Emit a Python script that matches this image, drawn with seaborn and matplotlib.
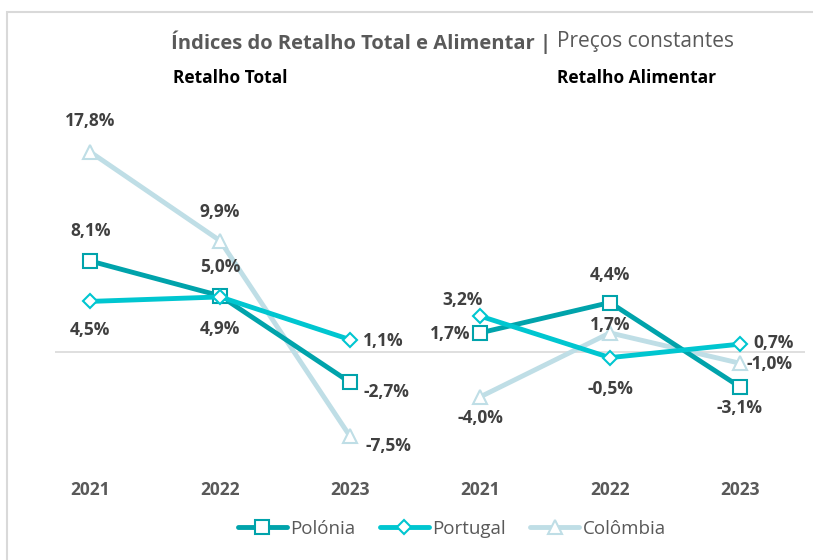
import numpy as np
import pandas as pd
import matplotlib
matplotlib.use("Agg")
import matplotlib.pyplot as plt
import matplotlib.patches as mpatches
from matplotlib.lines import Line2D
import seaborn as sns

# Data
years = ['2021', '2022', '2023']
groups = ['Retalho Total', 'Retalho Alimentar']
countries = ['Polónia', 'Portugal', 'Colômbia']

polonia_total = [8.1, 5.0, -2.7]
portugal_total = [4.5, 4.9, 1.1]
colombia_total = [17.8, 9.9, -7.5]

polonia_alim = [1.7, 4.4, -3.1]
portugal_alim = [3.2, -0.5, 0.7]
colombia_alim = [-4.0, 1.7, -1.0]

# Build long table
rows = []
vals = {
    ('Retalho Total', 'Polónia'): polonia_total,
    ('Retalho Total', 'Portugal'): portugal_total,
    ('Retalho Total', 'Colômbia'): colombia_total,
    ('Retalho Alimentar', 'Polónia'): polonia_alim,
    ('Retalho Alimentar', 'Portugal'): portugal_alim,
    ('Retalho Alimentar', 'Colômbia'): colombia_alim,
}
for gi, g in enumerate(groups):
    for c in countries:
        for yi, y in enumerate(years):
            rows.append({'group': g, 'country': c, 'year': y,
                         'pos': gi * 3 + yi, 'value': vals[(g, c)][yi]})
df = pd.DataFrame(rows)

# Styles
colors = {'Polónia': '#00A3AB', 'Portugal': '#00C6D0', 'Colômbia': '#BFDEE6'}
markers = {'Polónia': 's', 'Portugal': 'D', 'Colômbia': '^'}
msizes = {'Polónia': 10, 'Portugal': 7.5, 'Colômbia': 10}
zorders = {'Polónia': 3, 'Portugal': 4, 'Colômbia': 2}

# label offsets in pixels (dx, dy) per group/country/year index
offsets = {
    ('Retalho Total', 'Polónia'): [(0, 30), (0, 29), (36, -10)],
    ('Retalho Total', 'Portugal'): [(0, -29), (0, -32), (33, -1)],
    ('Retalho Total', 'Colômbia'): [(0, 31), (0, 29), (38, -10)],
    ('Retalho Alimentar', 'Polónia'): [(-30, -1), (0, 28), (0, -21)],
    ('Retalho Alimentar', 'Portugal'): [(-17, 16), (0, -31), (34, 1)],
    ('Retalho Alimentar', 'Colômbia'): [(0, -21), (0, 8), (30, -1)],
}

sns.set_theme(style='white')
plt.rcParams['font.family'] = ['Open Sans', 'DejaVu Sans']

fig = plt.figure(figsize=(8.13, 5.6), dpi=100)
ax = fig.add_axes([0.0677, 0.1707, 0.9223, 0.5821])

ax.axhline(0, color='#D9D9D9', lw=1.2, zorder=1)

for g in groups:
    for c in countries:
        sub = df[(df['group'] == g) & (df['country'] == c)]
        sns.lineplot(data=sub, x='pos', y='value', ax=ax, color=colors[c],
                     lw=3.5, marker=markers[c], markersize=msizes[c],
                     markerfacecolor='white', markeredgecolor=colors[c],
                     markeredgewidth=1.5, zorder=zorders[c])
        for i, (_, r) in enumerate(sub.iterrows()):
            dx, dy = offsets[(g, c)][i]
            ax.annotate(f"{r['value']:.1f}%".replace('.', ','),
                        (r['pos'], r['value']), xytext=(dx, dy),
                        textcoords='offset pixels', ha='center', va='center',
                        fontsize=12.5, fontweight='bold', color='#404040',
                        zorder=6)

ax.set_xlim(-0.27, 5.5)
ax.set_ylim(-10, 19)
ax.set_xticks(range(6))
ax.set_xticklabels(years * 2, fontsize=12.5, fontweight='bold', color='#595959')
ax.tick_params(axis='x', length=0, pad=12)
ax.set_yticks([])
ax.set_xlabel('')
ax.set_ylabel('')
for s in ax.spines.values():
    s.set_visible(False)
ax.grid(False)

# Titles
fig.text(0.6777, 0.925, 'Índices do Retalho Total e Alimentar |', ha='right',
         va='center', fontsize=14.5, fontweight='bold', color='#595959')
fig.text(0.685, 0.925, 'Preços constantes', ha='left', va='center',
         fontsize=15, color='#595959')
fig.text(230 / 813, 1 - 78 / 560, 'Retalho Total', ha='center', va='center',
         fontsize=12.5, fontweight='bold', color='black')
fig.text(637 / 813, 1 - 78 / 560, 'Retalho Alimentar', ha='center', va='center',
         fontsize=12.5, fontweight='bold', color='black')

# Legend
handles = [Line2D([0], [0], color=colors[c], lw=3.5, marker=markers[c],
                  markersize=msizes[c], markerfacecolor='white',
                  markeredgecolor=colors[c], markeredgewidth=1.5)
           for c in countries]
leg = fig.legend(handles, countries, loc='center', bbox_to_anchor=(0.556, 1 - 529 / 560),
                 ncol=3, frameon=False, fontsize=13.5, handlelength=2.6,
                 handletextpad=0.2, columnspacing=1.3)
for t in leg.get_texts():
    t.set_color('#595959')

# Outer border
fig.patches.append(mpatches.Rectangle((7 / 813, -0.1), 1.2, 1.1 - 12 / 560,
                                      transform=fig.transFigure, fill=False,
                                      edgecolor='#D9D9D9', lw=1.5))

fig.savefig('out.png', dpi=100, facecolor='white')
